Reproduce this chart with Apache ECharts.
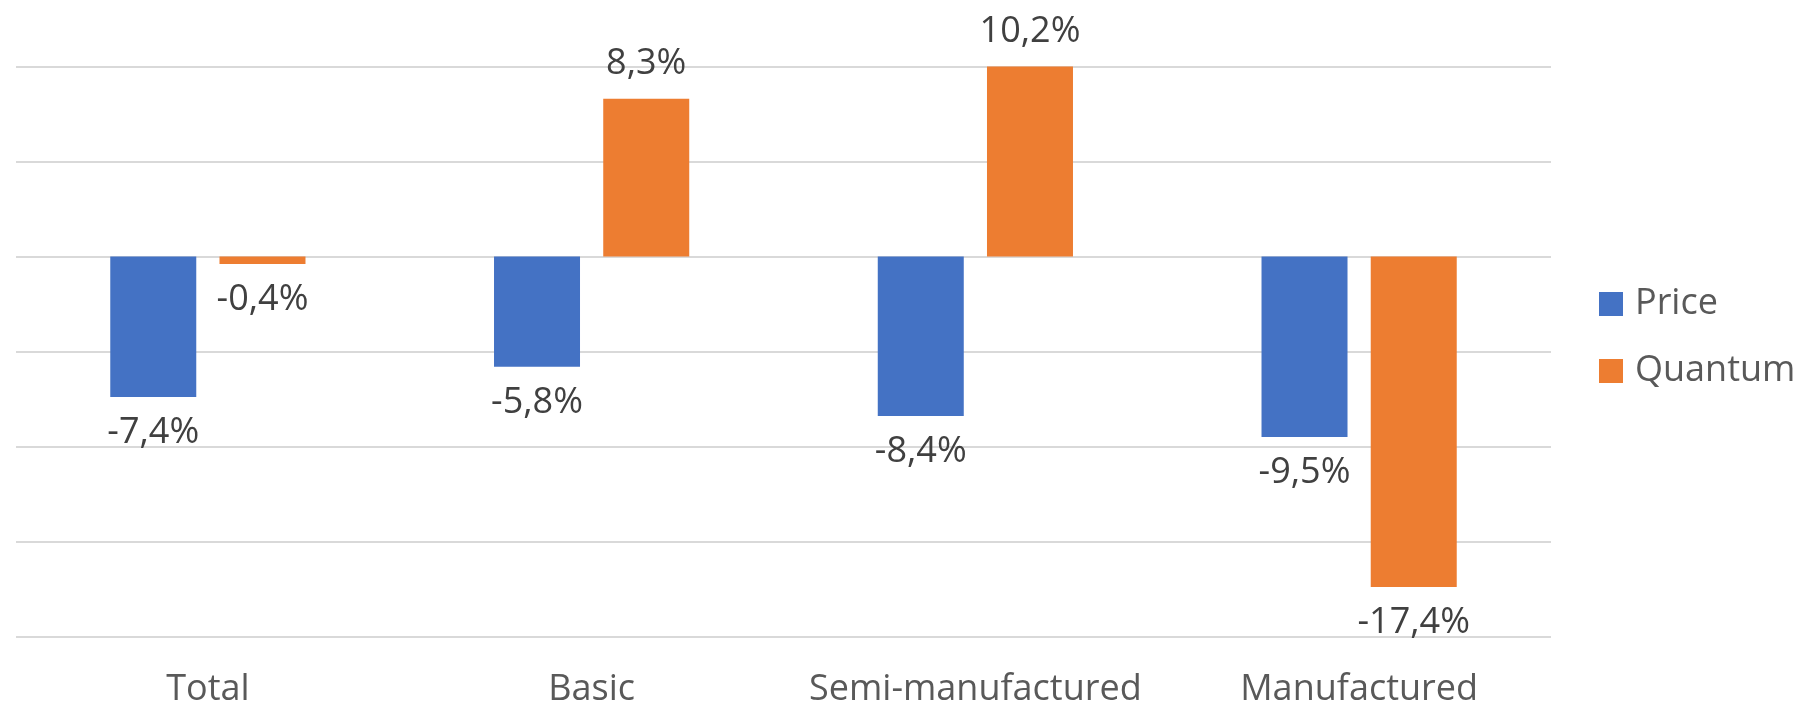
<!DOCTYPE html>
<html>
<head>
<meta charset="utf-8">
<script src="https://cdn.jsdelivr.net/npm/echarts@6/dist/echarts.min.js"></script>
<style>
  html, body { margin: 0; padding: 0; background: #fff; }
  #chart { width: 1801px; height: 709px; }
</style>
</head>
<body>
<div id="chart"></div>
<script>
const categories = ['Total', 'Basic', 'Semi-manufactured', 'Manufactured'];
const priceValues = [-7.4, -5.8, -8.4, -9.5];
const quantumValues = [-0.4, 8.3, 10.2, -17.4];
const yTicks = { min: -20, max: 10, interval: 5 };

const fontFamily = '"Open Sans", Lato, sans-serif';
const fontSize = 36;

// labels above positive bars, below negative ones
const withLabels = (values) =>
  values.map((v) => ({
    value: v,
    label: v < 0 ? { position: 'bottom', distance: 18 } : { position: 'top', distance: 17 },
  }));

const barLabel = {
  show: true,
  fontFamily: fontFamily,
  fontSize: fontSize,
  color: '#404040',
  formatter: (p) => p.value.toFixed(1).replace('.', ',') + '%',
};

const chart = echarts.init(document.getElementById('chart'));

const option = {
  animation: false,
  legend: {
    orient: 'vertical',
    left: 1599,
    top: 286,
    padding: 0,
    itemWidth: 24,
    itemHeight: 24,
    itemGap: 31,
    icon: 'rect',
    data: ['Price', 'Quantum'],
    textStyle: {
      fontFamily: fontFamily,
      fontSize: fontSize,
      color: '#595959',
      padding: [0, 0, 0, 7],
    },
  },
  grid: {
    left: 16,
    right: 250,
    top: 66.5,
    bottom: 72.5,
  },
  xAxis: {
    type: 'category',
    data: categories,
    axisLine: { show: false },
    axisTick: { show: false },
    axisLabel: {
      interval: 0,
      fontFamily: fontFamily,
      fontSize: fontSize,
      color: '#595959',
      margin: 35,
    },
  },
  yAxis: {
    type: 'value',
    min: yTicks.min,
    max: yTicks.max,
    interval: yTicks.interval,
    axisLabel: { show: false },
    axisLine: { show: false },
    axisTick: { show: false },
    splitLine: { lineStyle: { color: '#d9d9d9', width: 2 } },
  },
  series: [
    {
      name: 'Price',
      type: 'bar',
      barWidth: 86,
      barGap: '27%',
      itemStyle: { color: '#4472C4' },
      label: barLabel,
      data: withLabels(priceValues),
    },
    {
      name: 'Quantum',
      type: 'bar',
      barWidth: 86,
      barGap: '27%',
      itemStyle: { color: '#ED7D31' },
      label: barLabel,
      data: withLabels(quantumValues),
    },
  ],
};

chart.setOption(option);
</script>
</body>
</html>
